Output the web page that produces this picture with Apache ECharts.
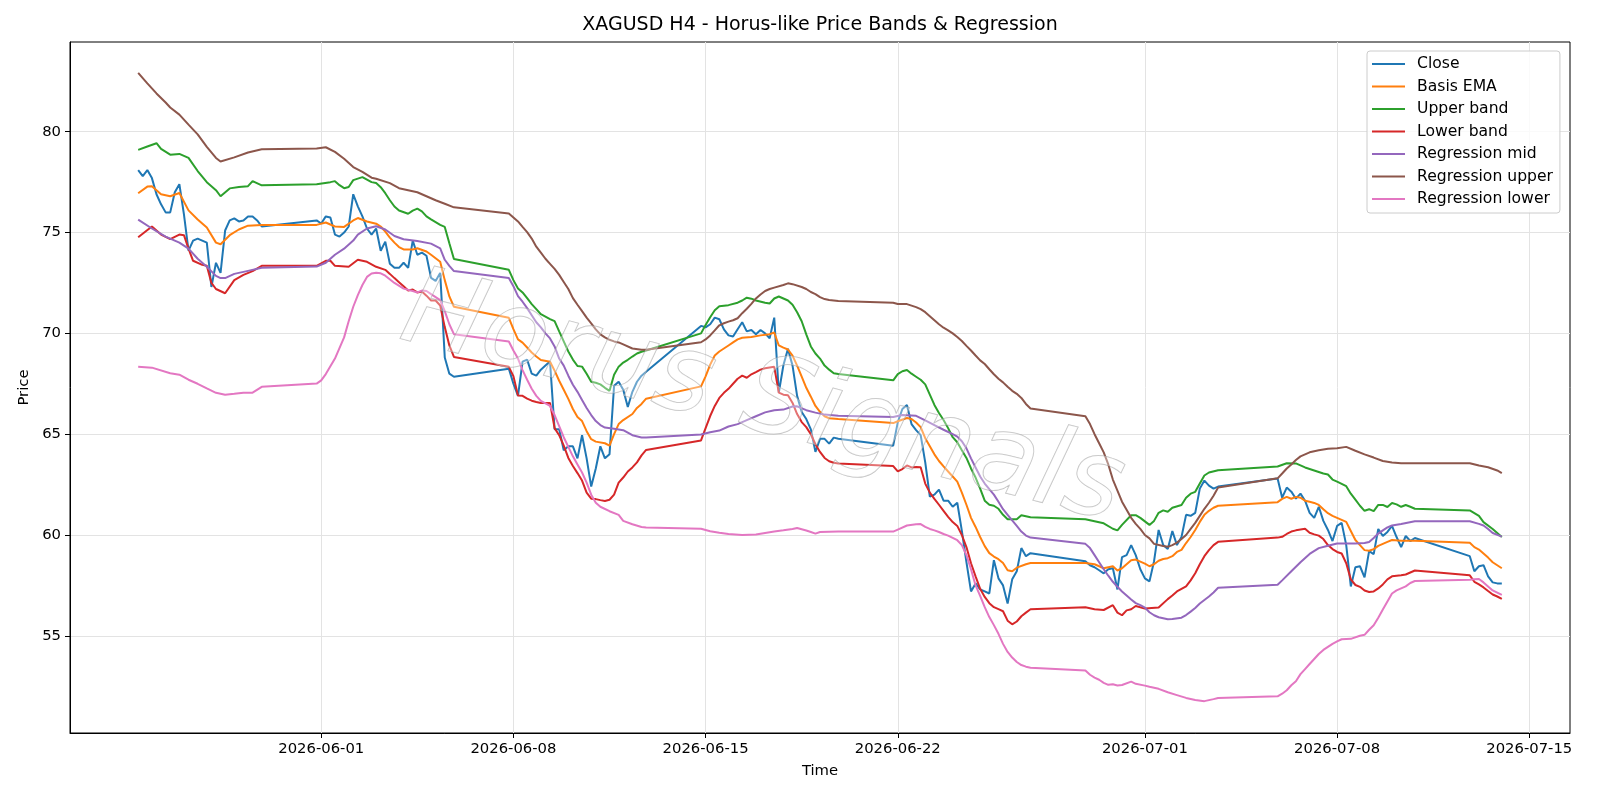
<!DOCTYPE html>
<html>
<head>
<meta charset="utf-8" />
<title>XAGUSD H4 - Horus-like Price Bands &amp; Regression</title>
<script src="https://cdn.jsdelivr.net/npm/echarts@6/dist/echarts.min.js"></script>
<style>
  html, body { margin: 0; padding: 0; background: #fff; }
  #chart { width: 1600px; height: 800px; }
</style>
</head>
<body>
<div id="chart"></div>
<script>
// H4 trading sessions: first bar, last bar (bars every 4h in between)
const sessions = [
  ['05-25 08', '05-29 20'],
  ['05-31 20', '06-05 20'],
  ['06-07 20', '06-12 20'],
  ['06-14 20', '06-19 20'],
  ['06-21 20', '06-26 20'],
  ['06-28 20', '07-03 16'],
  ['07-05 20', '07-10 20'],
  ['07-12 20', '07-14 00']
];

// close, one value per H4 bar
const closeVals = [
  78.1, 77.8, 78.1, 77.7, 76.9, 76.4, 76.0, 76.0, 77.0, 77.4, 75.9, 74.1, 74.6, 74.7,
  74.6, 74.5, 72.3, 73.5, 73.0, 75.1, 75.6, 75.7, 75.55, 75.6, 75.8, 75.8, 75.6, 75.3,
  // week 2
  75.6,
  75.45, 75.8, 75.75, 74.9, 74.8, 75.0,
  75.3, 76.9, 76.3, 75.8, 75.2, 74.9,
  75.2, 74.1, 74.55, 73.45, 73.25, 73.25,
  73.5, 73.25, 74.6, 73.9, 74.0, 73.85,
  72.75, 72.6, 73.0, 68.8, 68.0, 67.85,
  // week 3
  68.25,
  67.5, 66.9, 68.6, 68.7, 68.0, 67.9,
  68.2, 68.4, 68.6, 65.25, 65.25, 64.2,
  64.4, 64.4, 63.8, 64.95, 63.8, 62.4,
  63.3, 64.4, 63.8, 64.0, 67.4, 67.6,
  67.2, 66.35, 67.1, 67.6, 67.9, 68.1,
  // week 4
  70.37,
  70.3, 70.45, 70.78, 70.7, 70.2, 69.9,
  69.84, 70.2, 70.55, 70.1, 70.17, 69.96,
  70.17, 70.0, 69.76, 70.78, 67.06, 68.42,
  69.23, 68.4, 66.9, 66.1, 65.75, 65.24,
  64.12, 64.77, 64.77, 64.53, 64.83, 64.77,
  // week 5
  64.43,
  65.6, 66.25, 66.45, 65.5, 65.2, 64.95,
  63.6, 61.9, 62.0, 62.25, 61.7, 61.7,
  61.4, 61.6, 60.2, 58.65, 57.2, 57.6,
  57.3, 57.2, 57.1, 58.75, 57.85, 57.5,
  56.6, 57.8, 58.2, 59.35, 58.95, 59.1,
  // week 6 (short friday)
  58.7,
  58.5, 58.4, 58.25, 58.1, 58.3, 58.35,
  57.3, 58.9, 59.0, 59.5, 59.0, 58.3,
  57.85, 57.7, 58.7, 60.25, 59.5, 59.3,
  60.2, 59.5, 59.9, 61.0, 60.95, 61.1,
  62.3, 62.7, 62.45, 62.3, 62.4,
  // week 7
  62.8,
  61.85, 62.35, 62.15, 61.8, 62.05, 61.7,
  61.1, 60.85, 61.4, 60.7, 60.25, 59.7,
  60.45, 60.6, 59.5, 57.45, 58.4, 58.45,
  57.9, 59.2, 59.05, 60.3, 59.95, 60.15,
  60.45, 59.9, 59.4, 59.95, 59.7, 59.85,
  // week 8
  58.95, 58.2, 58.45, 58.5, 57.95, 57.65, 57.6, 57.6
];

const emaPts = [
  ['05-25 08',76.95],['05-25 16',77.28],['05-25 20',77.3],['05-26 04',76.9],['05-26 12',76.8],['05-26 20',76.96],['05-27 04',76.1],['05-27 12',75.65],['05-27 20',75.25],['05-28 04',74.5],['05-28 08',74.42],['05-28 16',74.87],['05-29 00',75.15],['05-29 08',75.34],['05-29 20',75.38],
  ['05-31 20',75.38],['06-01 04',75.5],['06-01 12',75.3],['06-01 20',75.28],['06-02 04',75.6],['06-02 08',75.72],['06-02 16',75.55],['06-03 00',75.44],['06-03 04',75.3],['06-03 08',75.05],['06-03 12',74.75],['06-03 16',74.5],['06-03 20',74.28],['06-04 00',74.16],['06-04 08',74.16],['06-04 12',74.22],['06-04 20',74.06],['06-05 00',73.9],['06-05 08',73.55],['06-05 12',72.64],['06-05 16',71.83],['06-05 20',71.32],
  ['06-07 20',70.77],['06-08 00',70.21],['06-08 04',69.7],['06-08 08',69.54],['06-08 12',69.3],['06-08 16',69.05],['06-08 20',68.85],['06-09 00',68.68],['06-09 08',68.59],['06-09 12',68.15],['06-09 16',67.65],['06-09 20',67.2],['06-10 00',66.75],['06-10 04',66.25],['06-10 08',65.85],['06-10 12',65.65],['06-10 16',65.15],['06-10 20',64.75],['06-11 00',64.63],['06-11 08',64.55],['06-11 12',64.43],['06-11 16',65.0],['06-11 20',65.5],['06-12 00',65.7],['06-12 08',66.0],['06-12 12',66.3],['06-12 16',66.5],['06-12 20',66.76],
  ['06-14 20',67.37],['06-15 00',67.87],['06-15 04',68.45],['06-15 08',68.9],['06-15 12',69.1],['06-15 16',69.25],['06-15 20',69.4],['06-16 00',69.55],['06-16 04',69.7],['06-16 08',69.78],['06-16 16',69.82],['06-17 00',69.9],['06-17 08',69.96],['06-17 12',70.04],['06-17 16',69.4],['06-17 20',69.29],['06-18 00',69.2],['06-18 04',68.9],['06-18 08',68.4],['06-18 12',67.85],['06-18 16',67.3],['06-18 20',66.86],['06-19 00',66.4],['06-19 04',66.11],['06-19 08',65.89],['06-19 12',65.79],['06-19 20',65.75],
  ['06-21 20',65.55],['06-22 00',65.64],['06-22 08',65.8],['06-22 12',65.75],['06-22 16',65.58],['06-22 20',65.35],['06-23 00',64.8],['06-23 04',64.4],['06-23 08',64.0],['06-23 12',63.67],['06-23 16',63.4],['06-23 20',63.15],['06-24 00',62.9],['06-24 04',62.65],['06-24 08',62.1],['06-24 12',61.5],['06-24 16',60.85],['06-24 20',60.4],['06-25 00',59.9],['06-25 04',59.45],['06-25 08',59.1],['06-25 12',58.93],['06-25 16',58.8],['06-25 20',58.61],['06-26 00',58.25],['06-26 04',58.2],['06-26 08',58.38],['06-26 16',58.55],['06-26 20',58.61],
  ['06-28 20',58.61],['06-29 04',58.55],['06-29 12',58.35],['06-29 20',58.45],['06-30 00',58.24],['06-30 04',58.35],['06-30 08',58.55],['06-30 12',58.75],['06-30 16',58.78],['06-30 20',58.68],['07-01 00',58.58],['07-01 04',58.45],['07-01 08',58.55],['07-01 12',58.72],['07-01 16',58.81],['07-01 20',58.85],['07-02 00',58.95],['07-02 04',59.16],['07-02 08',59.26],['07-02 12',59.6],['07-02 16',59.9],['07-02 20',60.25],['07-03 00',60.65],['07-03 04',61.0],['07-03 08',61.2],['07-03 12',61.35],['07-03 16',61.45],
  ['07-05 20',61.63],['07-06 00',61.79],['07-06 04',61.89],['07-06 08',61.8],['07-06 12',61.89],['07-06 16',61.85],['07-06 20',61.7],['07-07 00',61.65],['07-07 04',61.59],['07-07 08',61.49],['07-07 12',61.28],['07-07 16',61.08],['07-07 20',60.95],['07-08 00',60.85],['07-08 08',60.65],['07-08 12',60.2],['07-08 16',59.75],['07-08 20',59.5],['07-09 00',59.25],['07-09 04',59.22],['07-09 08',59.3],['07-09 12',59.46],['07-09 16',59.56],['07-09 20',59.66],['07-10 00',59.75],['07-10 08',59.71],['07-10 20',59.71],
  ['07-12 20',59.62],['07-13 00',59.4],['07-13 04',59.28],['07-13 08',59.08],['07-13 12',58.88],['07-13 16',58.65],['07-13 20',58.5],['07-14 00',58.35]
];

const upperPts = [
  ['05-25 08',79.1],['05-25 16',79.27],['05-26 00',79.43],['05-26 04',79.15],['05-26 12',78.86],['05-26 20',78.9],['05-27 04',78.7],['05-27 12',78.05],['05-27 20',77.5],['05-28 04',77.1],['05-28 08',76.8],['05-28 16',77.19],['05-29 00',77.26],['05-29 08',77.3],['05-29 12',77.55],['05-29 20',77.34],
  ['05-31 20',77.4],['06-01 08',77.5],['06-01 12',77.55],['06-01 16',77.35],['06-01 20',77.2],['06-02 00',77.26],['06-02 04',77.6],['06-02 12',77.75],['06-02 20',77.5],['06-03 00',77.46],['06-03 04',77.25],['06-03 08',76.95],['06-03 12',76.6],['06-03 16',76.29],['06-03 20',76.09],['06-04 04',75.93],['06-04 08',76.09],['06-04 12',76.19],['06-04 16',76.05],['06-04 20',75.8],['06-05 00',75.65],['06-05 08',75.38],['06-05 12',75.28],['06-05 16',74.47],['06-05 20',73.69],
  ['06-07 20',73.15],['06-08 00',72.64],['06-08 04',72.23],['06-08 08',72.03],['06-08 12',71.75],['06-08 16',71.45],['06-08 20',71.2],['06-09 00',70.95],['06-09 08',70.71],['06-09 12',70.61],['06-09 16',70.1],['06-09 20',69.6],['06-10 00',69.1],['06-10 04',68.7],['06-10 08',68.38],['06-10 12',68.35],['06-10 16',68.0],['06-10 20',67.6],['06-11 00',67.55],['06-11 04',67.47],['06-11 08',67.3],['06-11 12',67.15],['06-11 16',67.95],['06-11 20',68.35],['06-12 00',68.55],['06-12 04',68.69],['06-12 08',68.85],['06-12 12',69.0],['06-12 16',69.09],['06-12 20',69.15],
  ['06-14 20',70.0],['06-15 00',70.41],['06-15 04',70.8],['06-15 08',71.15],['06-15 12',71.35],['06-15 20',71.4],['06-16 04',71.52],['06-16 08',71.63],['06-16 12',71.77],['06-16 16',71.72],['06-16 20',71.63],['06-17 04',71.52],['06-17 08',71.48],['06-17 12',71.73],['06-17 16',71.83],['06-17 20',71.73],['06-18 00',71.63],['06-18 04',71.42],['06-18 08',71.05],['06-18 12',70.6],['06-18 16',69.95],['06-18 20',69.35],['06-19 00',69.0],['06-19 04',68.75],['06-19 08',68.4],['06-19 12',68.2],['06-19 16',68.02],['06-19 20',67.98],
  ['06-21 20',67.67],['06-22 00',67.98],['06-22 04',68.12],['06-22 08',68.18],['06-22 12',68.0],['06-22 16',67.85],['06-22 20',67.7],['06-23 00',67.47],['06-23 04',66.96],['06-23 08',66.45],['06-23 12',66.05],['06-23 16',65.7],['06-23 20',65.3],['06-24 00',64.85],['06-24 04',64.6],['06-24 08',64.2],['06-24 12',63.82],['06-24 16',63.3],['06-24 20',62.85],['06-25 00',62.3],['06-25 04',61.7],['06-25 08',61.5],['06-25 12',61.45],['06-25 16',61.3],['06-25 20',61.0],['06-26 00',60.78],['06-26 08',60.78],['06-26 12',60.98],['06-26 20',60.88],
  ['06-28 20',60.78],['06-29 04',60.68],['06-29 12',60.58],['06-29 20',60.31],['06-30 00',60.23],['06-30 04',60.5],['06-30 12',60.98],['06-30 16',60.98],['06-30 20',60.85],['07-01 04',60.5],['07-01 08',60.7],['07-01 12',61.1],['07-01 16',61.22],['07-01 20',61.15],['07-02 00',61.35],['07-02 08',61.49],['07-02 12',61.85],['07-02 16',62.05],['07-02 20',62.14],['07-03 00',62.55],['07-03 04',62.95],['07-03 08',63.1],['07-03 16',63.21],
  ['07-05 20',63.4],['07-06 04',63.56],['07-06 12',63.55],['07-06 20',63.35],['07-07 04',63.2],['07-07 12',63.05],['07-07 16',63.0],['07-07 20',62.75],['07-08 00',62.65],['07-08 04',62.54],['07-08 08',62.42],['07-08 12',62.05],['07-08 16',61.75],['07-08 20',61.45],['07-09 00',61.2],['07-09 04',61.28],['07-09 08',61.18],['07-09 12',61.49],['07-09 16',61.49],['07-09 20',61.39],['07-10 00',61.59],['07-10 04',61.52],['07-10 08',61.4],['07-10 12',61.49],['07-10 16',61.4],['07-10 20',61.3],
  ['07-12 20',61.22],['07-13 04',60.95],['07-13 08',60.64],['07-13 16',60.3],['07-14 00',59.9]
];

const lowerPts = [
  ['05-25 08',74.77],['05-25 20',75.3],['05-26 04',74.9],['05-26 12',74.67],['05-26 20',74.9],['05-27 00',74.87],['05-27 04',74.2],['05-27 08',73.6],['05-27 16',73.4],['05-27 20',73.35],['05-28 00',72.5],['05-28 04',72.2],['05-28 12',71.99],['05-28 20',72.64],['05-29 04',72.9],['05-29 12',73.09],['05-29 20',73.35],
  ['05-31 20',73.35],['06-01 04',73.6],['06-01 08',73.6],['06-01 12',73.35],['06-02 00',73.3],['06-02 08',73.65],['06-02 16',73.55],['06-03 00',73.3],['06-03 08',73.15],['06-03 12',72.95],['06-03 16',72.74],['06-03 20',72.54],['06-04 00',72.34],['06-04 04',72.13],['06-04 08',72.17],['06-04 12',72.03],['06-04 16',72.08],['06-04 20',71.87],['06-05 00',71.63],['06-05 04',71.63],['06-05 08',71.38],['06-05 12',70.31],['06-05 16',69.4],['06-05 20',68.83],
  ['06-07 20',68.34],['06-08 00',67.88],['06-08 04',66.92],['06-08 08',66.9],['06-08 12',66.76],['06-08 16',66.66],['06-08 20',66.6],['06-09 00',66.55],['06-09 08',66.55],['06-09 12',65.3],['06-09 16',64.95],['06-09 20',64.43],['06-10 00',63.82],['06-10 04',63.42],['06-10 08',63.07],['06-10 12',62.7],['06-10 16',62.1],['06-10 20',61.8],['06-11 00',61.78],['06-11 04',61.73],['06-11 08',61.69],['06-11 12',61.75],['06-11 16',62.0],['06-11 20',62.6],['06-12 00',62.85],['06-12 04',63.15],['06-12 08',63.35],['06-12 12',63.6],['06-12 16',63.95],['06-12 20',64.22],
  ['06-14 20',64.69],['06-15 00',65.3],['06-15 04',65.9],['06-15 08',66.4],['06-15 12',66.8],['06-15 16',67.05],['06-15 20',67.25],['06-16 00',67.5],['06-16 04',67.75],['06-16 08',67.9],['06-16 12',67.8],['06-16 16',67.97],['06-16 20',68.08],['06-17 00',68.2],['06-17 04',68.27],['06-17 12',68.34],['06-17 16',67.06],['06-17 20',66.96],['06-18 00',66.93],['06-18 04',66.55],['06-18 08',66.0],['06-18 12',65.6],['06-18 16',65.35],['06-18 20',65.0],['06-19 00',64.5],['06-19 04',64.12],['06-19 08',63.82],['06-19 12',63.66],['06-19 16',63.58],['06-19 20',63.55],
  ['06-21 20',63.42],['06-22 00',63.15],['06-22 04',63.27],['06-22 08',63.45],['06-22 12',63.35],['06-22 16',63.37],['06-22 20',63.36],['06-23 00',62.55],['06-23 04',62.1],['06-23 08',61.79],['06-23 12',61.5],['06-23 16',61.2],['06-23 20',60.9],['06-24 00',60.64],['06-24 04',60.45],['06-24 08',60.0],['06-24 12',59.4],['06-24 16',58.6],['06-24 20',57.95],['06-25 00',57.33],['06-25 04',56.93],['06-25 08',56.62],['06-25 12',56.42],['06-25 16',56.32],['06-25 20',56.22],['06-26 00',55.75],['06-26 04',55.57],['06-26 08',55.71],['06-26 12',55.97],['06-26 16',56.15],['06-26 20',56.32],
  ['06-28 20',56.42],['06-29 04',56.32],['06-29 12',56.28],['06-29 20',56.52],['06-30 00',56.15],['06-30 04',56.02],['06-30 08',56.26],['06-30 12',56.32],['06-30 16',56.48],['07-01 00',56.35],['07-01 12',56.4],['07-01 20',56.82],['07-02 00',57.0],['07-02 04',57.2],['07-02 12',57.45],['07-02 16',57.75],['07-02 20',58.1],['07-03 00',58.55],['07-03 04',58.95],['07-03 08',59.25],['07-03 12',59.5],['07-03 16',59.66],
  ['07-05 20',59.87],['07-06 00',59.91],['07-06 04',60.05],['07-06 08',60.17],['07-06 12',60.23],['07-06 16',60.27],['07-06 20',60.31],['07-07 00',60.11],['07-07 04',60.03],['07-07 08',59.97],['07-07 12',59.8],['07-07 16',59.5],['07-07 20',59.3],['07-08 00',59.16],['07-08 04',59.08],['07-08 08',58.6],['07-08 12',57.8],['07-08 16',57.52],['07-08 20',57.43],['07-09 00',57.25],['07-09 04',57.17],['07-09 08',57.2],['07-09 12',57.35],['07-09 16',57.55],['07-09 20',57.8],['07-10 00',57.95],['07-10 08',58.0],['07-10 12',58.04],['07-10 16',58.14],['07-10 20',58.24],
  ['07-12 20',58.0],['07-13 00',57.68],['07-13 04',57.55],['07-13 08',57.4],['07-13 12',57.22],['07-13 16',57.05],['07-13 20',56.95],['07-14 00',56.83]
];

const regMidPts = [
  ['05-25 08',75.64],['05-25 20',75.2],['05-26 08',74.8],['05-26 20',74.5],['05-27 04',74.2],['05-27 12',73.7],['05-27 20',73.3],['05-28 04',72.85],['05-28 08',72.74],['05-28 12',72.74],['05-28 20',72.95],['05-29 08',73.1],['05-29 20',73.25],
  ['05-31 20',73.31],['06-01 04',73.5],['06-01 12',73.9],['06-01 20',74.2],['06-02 04',74.6],['06-02 08',74.9],['06-02 16',75.2],['06-03 00',75.31],['06-03 08',75.15],['06-03 16',74.83],['06-04 00',74.67],['06-04 12',74.58],['06-05 00',74.45],['06-05 08',74.22],['06-05 12',73.65],['06-05 16',73.35],['06-05 20',73.09],
  ['06-07 20',72.74],['06-08 00',72.34],['06-08 04',71.85],['06-08 08',71.57],['06-08 12',71.25],['06-08 16',70.9],['06-08 20',70.55],['06-09 00',70.3],['06-09 04',70.0],['06-09 08',69.75],['06-09 12',69.35],['06-09 16',68.75],['06-09 20',68.4],['06-10 00',67.9],['06-10 04',67.45],['06-10 08',67.1],['06-10 12',66.7],['06-10 16',66.3],['06-10 20',65.95],['06-11 00',65.65],['06-11 04',65.45],['06-11 08',65.33],['06-11 16',65.27],['06-12 00',65.2],['06-12 08',64.95],['06-12 16',64.84],['06-12 20',64.83],
  ['06-14 20',64.98],['06-15 04',65.1],['06-15 12',65.18],['06-15 20',65.38],['06-16 04',65.5],['06-16 12',65.7],['06-16 20',65.89],['06-17 04',66.08],['06-17 12',66.19],['06-17 20',66.22],['06-18 04',66.37],['06-18 08',66.38],['06-18 16',66.19],['06-19 00',66.07],['06-19 08',65.97],['06-19 20',65.91],
  ['06-21 20',65.85],['06-22 04',65.95],['06-22 16',65.91],['06-22 20',65.8],['06-23 00',65.68],['06-23 08',65.45],['06-23 16',65.22],['06-24 00',65.0],['06-24 04',64.88],['06-24 08',64.65],['06-24 12',64.3],['06-24 16',63.8],['06-24 20',63.35],['06-25 00',62.9],['06-25 04',62.55],['06-25 08',62.27],['06-25 12',62.0],['06-25 16',61.65],['06-25 20',61.28],['06-26 00',61.0],['06-26 04',60.72],['06-26 08',60.45],['06-26 12',60.17],['06-26 16',59.97],['06-26 20',59.87],
  ['06-28 20',59.56],['06-29 00',59.35],['06-29 04',59.0],['06-29 08',58.65],['06-29 12',58.3],['06-29 16',57.98],['06-29 20',57.68],['06-30 00',57.43],['06-30 04',57.2],['06-30 08',57.0],['06-30 12',56.8],['06-30 16',56.62],['06-30 20',56.52],['07-01 00',56.4],['07-01 04',56.17],['07-01 08',56.02],['07-01 12',55.92],['07-01 20',55.82],['07-02 00',55.83],['07-02 08',55.9],['07-02 12',56.03],['07-02 16',56.2],['07-02 20',56.38],['07-03 00',56.6],['07-03 08',56.95],['07-03 12',57.15],['07-03 16',57.38],
  ['07-05 20',57.53],['07-06 00',57.75],['07-06 08',58.2],['07-06 16',58.65],['07-07 00',59.06],['07-07 08',59.35],['07-07 16',59.47],['07-08 00',59.58],['07-08 16',59.58],['07-09 00',59.6],['07-09 04',59.65],['07-09 08',59.85],['07-09 12',60.07],['07-09 16',60.23],['07-09 20',60.38],['07-10 00',60.47],['07-10 08',60.55],['07-10 20',60.68],
  ['07-12 20',60.68],['07-13 04',60.55],['07-13 08',60.47],['07-13 12',60.3],['07-13 16',60.1],['07-14 00',59.92]
];

const regUpperPts = [
  ['05-25 08',82.92],['05-25 16',82.4],['05-26 00',81.9],['05-26 08',81.45],['05-26 12',81.2],['05-26 20',80.85],['05-27 04',80.35],['05-27 12',79.87],['05-27 20',79.25],['05-28 04',78.7],['05-28 08',78.52],['05-28 20',78.73],['05-29 08',78.97],['05-29 20',79.13],
  ['05-31 20',79.17],['06-01 04',79.23],['06-01 12',79.0],['06-01 20',78.66],['06-02 04',78.25],['06-02 12',78.01],['06-02 20',77.72],['06-03 00',77.67],['06-03 12',77.45],['06-03 20',77.2],['06-04 04',77.1],['06-04 12',77.0],['06-04 20',76.8],['06-05 04',76.6],['06-05 12',76.43],['06-05 20',76.25],
  ['06-07 20',75.95],['06-08 04',75.55],['06-08 08',75.28],['06-08 12',75.02],['06-08 16',74.7],['06-08 20',74.3],['06-09 00',74.0],['06-09 04',73.7],['06-09 08',73.45],['06-09 12',73.2],['06-09 16',72.9],['06-09 20',72.55],['06-10 00',72.2],['06-10 04',71.75],['06-10 08',71.42],['06-10 12',71.1],['06-10 16',70.78],['06-10 20',70.5],['06-11 00',70.2],['06-11 04',69.95],['06-11 08',69.8],['06-11 12',69.68],['06-11 16',69.6],['06-11 20',69.55],['06-12 00',69.45],['06-12 08',69.25],['06-12 16',69.19],['06-12 20',69.19],
  ['06-14 20',69.56],['06-15 00',69.7],['06-15 04',69.9],['06-15 08',70.15],['06-15 12',70.4],['06-15 16',70.5],['06-15 20',70.58],['06-16 00',70.65],['06-16 04',70.75],['06-16 08',71.0],['06-16 12',71.22],['06-16 16',71.46],['06-16 20',71.73],['06-17 00',71.93],['06-17 04',72.1],['06-17 08',72.2],['06-17 12',72.27],['06-17 20',72.4],['06-18 00',72.48],['06-18 04',72.44],['06-18 12',72.3],['06-18 16',72.2],['06-18 20',72.05],['06-19 00',71.95],['06-19 04',71.8],['06-19 08',71.7],['06-19 12',71.65],['06-19 20',71.6],
  ['06-21 20',71.52],['06-22 00',71.46],['06-22 08',71.45],['06-22 16',71.3],['06-22 20',71.2],['06-23 00',71.05],['06-23 04',70.85],['06-23 08',70.65],['06-23 12',70.45],['06-23 16',70.28],['06-23 20',70.15],['06-24 00',70.0],['06-24 04',69.82],['06-24 08',69.62],['06-24 12',69.38],['06-24 16',69.15],['06-24 20',68.9],['06-25 00',68.66],['06-25 04',68.48],['06-25 08',68.22],['06-25 12',67.97],['06-25 16',67.75],['06-25 20',67.57],['06-26 00',67.35],['06-26 04',67.15],['06-26 08',67.0],['06-26 12',66.8],['06-26 16',66.5],['06-26 20',66.27],
  ['06-28 20',65.89],['06-29 00',65.5],['06-29 04',65.0],['06-29 08',64.55],['06-29 12',64.1],['06-29 16',63.5],['06-29 20',62.75],['06-30 00',62.2],['06-30 04',61.65],['06-30 08',61.25],['06-30 12',60.85],['06-30 16',60.55],['06-30 20',60.3],['07-01 00',60.0],['07-01 04',59.83],['07-01 08',59.56],['07-01 16',59.45],['07-01 20',59.42],['07-02 00',59.5],['07-02 04',59.62],['07-02 08',59.8],['07-02 12',60.0],['07-02 16',60.3],['07-02 20',60.6],['07-03 00',60.95],['07-03 04',61.3],['07-03 08',61.6],['07-03 12',61.95],['07-03 16',62.35],
  ['07-05 20',62.81],['07-06 00',63.05],['07-06 04',63.3],['07-06 08',63.5],['07-06 12',63.72],['07-06 16',63.9],['07-06 20',64.0],['07-07 00',64.1],['07-07 08',64.2],['07-07 16',64.28],['07-08 00',64.3],['07-08 08',64.37],['07-08 16',64.18],['07-09 00',64.0],['07-09 08',63.84],['07-09 16',63.67],['07-10 00',63.6],['07-10 08',63.56],['07-10 20',63.56],
  ['07-12 20',63.56],['07-13 04',63.45],['07-13 12',63.36],['07-13 20',63.2],['07-14 00',63.07]
];

const regLowerPts = [
  ['05-25 08',68.34],['05-25 20',68.3],['05-26 12',68.02],['05-26 20',67.95],['05-27 04',67.7],['05-27 12',67.5],['05-27 20',67.27],['05-28 04',67.05],['05-28 12',66.96],['05-28 20',67.0],['05-29 04',67.06],['05-29 12',67.06],['05-29 20',67.35],
  ['05-31 20',67.51],['06-01 00',67.67],['06-01 04',67.98],['06-01 12',68.75],['06-01 20',69.8],['06-02 00',70.6],['06-02 04',71.32],['06-02 08',71.9],['06-02 12',72.4],['06-02 16',72.8],['06-02 20',72.97],['06-03 00',73.01],['06-03 04',72.98],['06-03 08',72.86],['06-03 16',72.5],['06-04 00',72.22],['06-04 08',72.1],['06-04 12',72.03],['06-04 16',72.12],['06-04 20',72.1],['06-05 00',71.95],['06-05 08',71.65],['06-05 12',71.1],['06-05 16',70.45],['06-05 20',69.96],
  ['06-07 20',69.6],['06-08 00',69.15],['06-08 04',68.75],['06-08 08',68.18],['06-08 12',67.7],['06-08 16',67.25],['06-08 20',66.9],['06-09 00',66.65],['06-09 08',66.4],['06-09 12',65.95],['06-09 16',65.4],['06-09 20',64.85],['06-10 00',64.37],['06-10 04',63.9],['06-10 08',63.5],['06-10 12',63.1],['06-10 16',62.6],['06-10 20',62.0],['06-11 00',61.6],['06-11 04',61.4],['06-11 12',61.18],['06-11 20',61.0],['06-12 00',60.7],['06-12 08',60.53],['06-12 16',60.4],['06-12 20',60.37],
  ['06-14 20',60.31],['06-15 04',60.19],['06-15 12',60.11],['06-15 20',60.05],['06-16 08',60.0],['06-16 20',60.03],['06-17 04',60.1],['06-17 12',60.17],['06-17 20',60.23],['06-18 04',60.3],['06-18 08',60.35],['06-18 16',60.22],['06-18 20',60.15],['06-19 00',60.07],['06-19 04',60.15],['06-19 20',60.17],
  ['06-21 20',60.17],['06-22 00',60.27],['06-22 08',60.47],['06-22 16',60.53],['06-22 20',60.54],['06-23 00',60.4],['06-23 04',60.3],['06-23 08',60.23],['06-23 12',60.15],['06-23 16',60.05],['06-23 20',59.97],['06-24 00',59.86],['06-24 04',59.74],['06-24 08',59.5],['06-24 12',59.0],['06-24 16',58.3],['06-24 20',57.5],['06-25 00',56.98],['06-25 04',56.42],['06-25 08',55.93],['06-25 12',55.53],['06-25 16',55.1],['06-25 20',54.6],['06-26 00',54.2],['06-26 04',53.92],['06-26 08',53.7],['06-26 12',53.55],['06-26 16',53.47],['06-26 20',53.42],
  ['06-28 20',53.28],['06-29 00',53.07],['06-29 04',52.93],['06-29 08',52.82],['06-29 12',52.67],['06-29 16',52.57],['06-29 20',52.6],['06-30 00',52.54],['06-30 04',52.56],['06-30 12',52.73],['06-30 16',52.62],['07-01 00',52.53],['07-01 04',52.47],['07-01 12',52.37],['07-01 20',52.2],['07-02 04',52.06],['07-02 12',51.92],['07-02 20',51.82],['07-03 04',51.76],['07-03 12',51.86],['07-03 16',51.92],
  ['07-05 20',52.0],['07-06 00',52.13],['07-06 04',52.3],['07-06 08',52.55],['07-06 12',52.75],['07-06 16',53.1],['07-06 20',53.35],['07-07 00',53.6],['07-07 04',53.85],['07-07 08',54.1],['07-07 12',54.3],['07-07 16',54.45],['07-07 20',54.6],['07-08 00',54.72],['07-08 04',54.83],['07-08 12',54.85],['07-08 20',55.0],['07-09 00',55.05],['07-09 04',55.3],['07-09 08',55.52],['07-09 12',55.9],['07-09 16',56.3],['07-09 20',56.7],['07-10 00',57.1],['07-10 04',57.25],['07-10 12',57.45],['07-10 16',57.62],['07-10 20',57.72],
  ['07-12 20',57.78],['07-13 00',57.8],['07-13 04',57.82],['07-13 08',57.65],['07-13 12',57.45],['07-13 16',57.25],['07-14 00',57.03]
];

const xTickDates = ['06-01', '06-08', '06-15', '06-22', '07-01', '07-08', '07-15'];
const yTicks = [55, 60, 65, 70, 75, 80];

// 'MM-DD HH' -> local timestamp in 2026
function ts(s) {
  const parts = s.split(' ');
  return new Date('2026-' + parts[0] + 'T' + (parts[1] || '00') + ':00:00').getTime();
}
const H4 = 4 * 3600 * 1000;
const barTimes = [];
sessions.forEach(function (s) {
  for (let t = ts(s[0]); t <= ts(s[1]); t += H4) barTimes.push(t);
});
if (barTimes.length !== closeVals.length) {
  console.warn('bars/close mismatch', barTimes.length, closeVals.length);
}
const closeData = barTimes.map(function (t, i) { return [t, closeVals[i]]; });
function pts(arr) { return arr.map(function (p) { return [ts(p[0]), p[1]]; }); }

// matplotlib style margins of 5% on the time axis
const tMin = barTimes[0], tMax = barTimes[barTimes.length - 1];
const tPad = (tMax - tMin) * 0.05;

const FONT = '"DejaVu Sans", sans-serif';
const TXT = 14.8;
const chart = echarts.init(document.getElementById('chart'), null, { renderer: 'canvas' });

function pad2(n) { return (n < 10 ? '0' : '') + n; }
function line(name, color, data) {
  return {
    name: name, type: 'line', data: data, showSymbol: false, symbol: 'none',
    lineStyle: { width: 2, color: color }, itemStyle: { color: color },
    emphasis: { disabled: true }, animation: false
  };
}

const option = {
  backgroundColor: '#fff',
  animation: false,
  title: {
    text: 'XAGUSD H4 - Horus-like Price Bands & Regression',
    left: 820, top: 16, textAlign: 'center', padding: 0,
    textStyle: { fontFamily: FONT, fontSize: 19, fontWeight: 'normal', color: '#000' }
  },
  legend: {
    orient: 'vertical', left: 1367, top: 51,
    padding: [5, 7, 6, 5],
    itemWidth: 33, itemHeight: 2, itemGap: 6.5, icon: 'rect',
    backgroundColor: 'rgba(255,255,255,0.8)', borderColor: '#cccccc', borderWidth: 1, borderRadius: 3,
    textStyle: { fontFamily: FONT, fontSize: 15.6, color: '#000', padding: [0, 0, 0, 7] },
    data: ['Close', 'Basis EMA', 'Upper band', 'Lower band', 'Regression mid', 'Regression upper', 'Regression lower']
  },
  grid: {
    left: 70, right: 30, top: 42, bottom: 67,
    show: true, borderColor: '#000', borderWidth: 1, backgroundColor: 'transparent'
  },
  xAxis: {
    type: 'value', min: tMin - tPad, max: tMax + tPad,
    name: 'Time', nameLocation: 'middle', nameGap: 31,
    nameTextStyle: { fontFamily: FONT, fontSize: TXT, color: '#000' },
    axisLine: { lineStyle: { color: '#000', width: 1 } },
    axisTick: { show: true, length: 5, lineStyle: { color: '#000' }, customValues: xTickDates.map(ts) },
    axisLabel: {
      customValues: xTickDates.map(ts), margin: 9, hideOverlap: false,
      fontFamily: FONT, fontSize: TXT, color: '#000',
      formatter: function (v) {
        const d = new Date(v);
        return d.getFullYear() + '-' + pad2(d.getMonth() + 1) + '-' + pad2(d.getDate());
      }
    },
    splitLine: { show: true, lineStyle: { color: '#e3e3e3', width: 1 } }
  },
  yAxis: {
    type: 'value', min: 50.18, max: 84.45,
    name: 'Price', nameLocation: 'middle', nameGap: 34,
    nameTextStyle: { fontFamily: FONT, fontSize: TXT, color: '#000' },
    axisLine: { show: true, lineStyle: { color: '#000', width: 1 } },
    axisTick: { show: true, length: 5, lineStyle: { color: '#000' }, customValues: yTicks },
    axisLabel: { customValues: yTicks, margin: 9, fontFamily: FONT, fontSize: TXT, color: '#000' },
    splitLine: { show: true, lineStyle: { color: '#e3e3e3', width: 1 } }
  },
  graphic: [
    {
      // watermark: thin outlined italic text with a soft shadow
      type: 'text', x: 762, y: 402, rotation: -0.25, z: 50, silent: true,
      style: {
        text: 'Horus Signals', font: 'italic 108px "DejaVu Sans"',
        textAlign: 'center', textVerticalAlign: 'middle',
        fill: 'rgba(255,255,255,0.35)', stroke: 'rgba(150,150,150,0.6)', lineWidth: 1,
        shadowColor: 'rgba(0,0,0,0.3)', shadowBlur: 3, shadowOffsetX: 2, shadowOffsetY: 3
      }
    }
  ],
  series: [
    line('Close', '#1f77b4', closeData),
    line('Basis EMA', '#ff7f0e', pts(emaPts)),
    line('Upper band', '#2ca02c', pts(upperPts)),
    line('Lower band', '#d62728', pts(lowerPts)),
    line('Regression mid', '#9467bd', pts(regMidPts)),
    line('Regression upper', '#8c564b', pts(regUpperPts)),
    line('Regression lower', '#e377c2', pts(regLowerPts))
  ]
};
chart.setOption(option);
</script>
</body>
</html>
